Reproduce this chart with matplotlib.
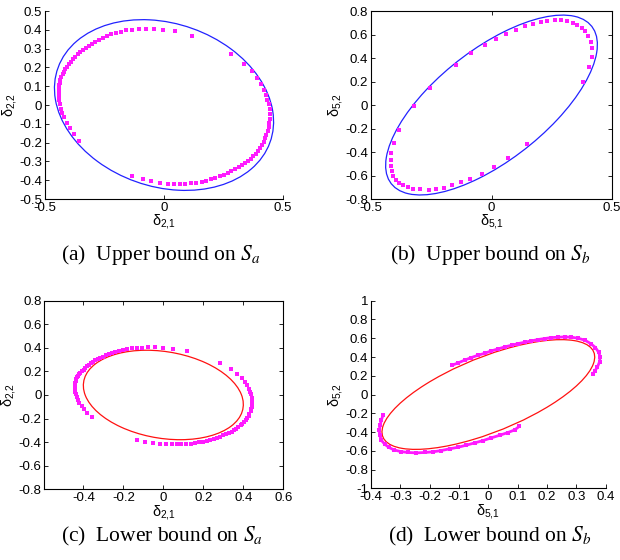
import numpy as np
import matplotlib
matplotlib.use("Agg")
import matplotlib.pyplot as plt
from matplotlib.patches import Ellipse

plt.rcParams['font.family'] = ['Liberation Sans', 'DejaVu Sans']
plt.rcParams['mathtext.fontset'] = 'custom'
plt.rcParams['mathtext.rm'] = 'Liberation Sans'
plt.rcParams['mathtext.it'] = 'Liberation Sans:italic'

# sampled points for S_a (used in panels a and c)
sa_x = [0.118, 0.046, -0.003, -0.042, -0.076, -0.105, -0.133, -0.158, -0.181, -0.202,
        -0.221, -0.240, -0.256, -0.273, -0.289, -0.303, -0.317, -0.329, -0.342, -0.353,
        -0.363, -0.373, -0.382, -0.391, -0.399, -0.408, -0.415, -0.420, -0.426, -0.431,
        -0.436, -0.438, -0.440, -0.441, -0.443, -0.443, -0.443, -0.441, -0.438, -0.434,
        -0.429, -0.420, -0.409, -0.396, -0.380, -0.357,
        -0.133, -0.090, -0.053, -0.018, 0.015, 0.041, 0.066, 0.090, 0.113, 0.136,
        0.158, 0.178, 0.197, 0.216, 0.234, 0.251, 0.268, 0.283, 0.300, 0.314,
        0.328, 0.342, 0.353, 0.364, 0.375, 0.386, 0.395, 0.403, 0.412, 0.419,
        0.426, 0.430, 0.436, 0.440, 0.443, 0.444, 0.445, 0.444, 0.440, 0.434,
        0.429, 0.420, 0.409, 0.392, 0.368, 0.336, 0.281]
sa_y = [0.369, 0.392, 0.401, 0.404, 0.404, 0.402, 0.401, 0.397, 0.390, 0.383,
        0.376, 0.367, 0.358, 0.348, 0.337, 0.326, 0.316, 0.305, 0.293, 0.282,
        0.270, 0.257, 0.243, 0.230, 0.216, 0.204, 0.190, 0.177, 0.163, 0.149,
        0.135, 0.119, 0.105, 0.090, 0.074, 0.059, 0.043, 0.027, 0.007, -0.020,
        -0.043, -0.066, -0.094, -0.121, -0.153, -0.191,
        -0.379, -0.395, -0.406, -0.413, -0.418, -0.420, -0.420, -0.418, -0.417, -0.413,
        -0.408, -0.402, -0.395, -0.388, -0.379, -0.371, -0.362, -0.353, -0.342, -0.332,
        -0.321, -0.310, -0.300, -0.287, -0.273, -0.259, -0.245, -0.229, -0.213, -0.195,
        -0.176, -0.158, -0.138, -0.119, -0.098, -0.074, -0.050, -0.023, 0.004, 0.028,
        0.053, 0.082, 0.112, 0.145, 0.179, 0.220, 0.273]

# sampled points for S_b (panel b)
sb_x = [-0.320, -0.383, -0.405, -0.418, -0.419, -0.418, -0.413, -0.408, -0.397, -0.383,
        -0.367, -0.348, -0.326, -0.295, -0.261, -0.229, -0.196, -0.163, -0.125, -0.088,
        -0.041, 0.010, 0.070, 0.146,
        0.378, 0.404, 0.419, 0.419, 0.411, 0.401, 0.389, 0.375, 0.356, 0.337,
        0.315, 0.290, 0.262, 0.232, 0.205, 0.172, 0.137, 0.100, 0.062, 0.019,
        -0.029, -0.084, -0.148, -0.255]
sb_y = [-0.009, -0.214, -0.322, -0.407, -0.464, -0.515, -0.558, -0.601, -0.635, -0.660,
        -0.683, -0.698, -0.712, -0.717, -0.720, -0.717, -0.703, -0.683, -0.658, -0.626,
        -0.584, -0.524, -0.450, -0.330,
        0.199, 0.325, 0.410, 0.487, 0.538, 0.586, 0.626, 0.658, 0.683, 0.700,
        0.712, 0.720, 0.723, 0.717, 0.706, 0.689, 0.669, 0.641, 0.606, 0.564,
        0.510, 0.441, 0.344, 0.148]

# dense points for S_b lower bound (panel d), two arcs
sd_up_x = [-0.124, -0.103, -0.081, -0.058, -0.035, -0.012, 0.010, 0.033, 0.056, 0.079,
           0.101, 0.124, 0.147, 0.169, 0.192, 0.215, 0.238, 0.260, 0.283, 0.306,
           0.329, 0.349, 0.365, 0.376, 0.381, 0.379, 0.372, 0.363, 0.356]
sd_up_y = [0.312, 0.337, 0.366, 0.394, 0.419, 0.440, 0.465, 0.486, 0.508, 0.525,
           0.543, 0.557, 0.572, 0.586, 0.597, 0.607, 0.611, 0.614, 0.611, 0.600,
           0.579, 0.543, 0.501, 0.451, 0.401, 0.348, 0.294, 0.252, 0.216]
sd_lo_x = [-0.359, -0.365, -0.369, -0.372, -0.370, -0.365, -0.353, -0.340, -0.322, -0.299,
           -0.274, -0.245, -0.217, -0.189, -0.160, -0.132, -0.103, -0.075, -0.046, -0.018,
           0.010, 0.039, 0.067, 0.090, 0.106]
sd_lo_y = [-0.221, -0.274, -0.328, -0.381, -0.434, -0.487, -0.530, -0.562, -0.590, -0.608,
           -0.618, -0.622, -0.618, -0.611, -0.597, -0.579, -0.562, -0.540, -0.515, -0.491,
           -0.462, -0.434, -0.405, -0.377, -0.338]

# bounding ellipses: (center x, center y, full width, full height, angle deg)
ell_a = (0.0, 0.0, 1.00, 0.82, -43)
ell_b = (0.0, 0.0, 1.66, 0.60, 65.5)
ell_c = (0.0, 0.0, 0.86, 0.69, -38)
ell_d = (0.0, 0.0, 1.29, 0.48, 63)

ticks_a_x = [-0.5, 0, 0.5]
ticks_a_y = [-0.5, -0.4, -0.3, -0.2, -0.1, 0, 0.1, 0.2, 0.3, 0.4, 0.5]
ticks_b_y = [-0.8, -0.6, -0.4, -0.2, 0, 0.2, 0.4, 0.6, 0.8]
ticks_c_x = [-0.4, -0.2, 0, 0.2, 0.4, 0.6]
ticks_d_x = [-0.4, -0.3, -0.2, -0.1, 0, 0.1, 0.2, 0.3, 0.4]
ticks_d_y = [-1, -0.8, -0.6, -0.4, -0.2, 0, 0.2, 0.4, 0.6, 0.8, 1]

captions = ['(a)  Upper bound on $S_a$', '(b)  Upper bound on $S_b$',
            '(c)  Lower bound on $S_a$', '(d)  Lower bound on $S_b$']

MAG = '#ff1aff'
MS = 2.2


def setup(ax, xt, yt, xl, yl, box, xlab, ylab):
    ax.set_xlim(xl)
    ax.set_ylim(yl)
    ax.set_xticks(xt)
    ax.set_yticks(yt)
    ax.set_xticklabels(['%g' % v for v in xt])
    ax.set_yticklabels(['%g' % v for v in yt])
    ax.tick_params(direction='in', length=3, width=0.6, labelsize=9.5, pad=2,
                   top=box, right=box)
    for s in ax.spines.values():
        s.set_linewidth(0.8)
    if not box:
        ax.spines['top'].set_visible(False)
        ax.spines['right'].set_visible(False)
    ax.set_xlabel(xlab, fontsize=10.5, labelpad=-1)
    ax.set_ylabel(ylab, fontsize=10.5, labelpad=0.5)


def add_ellipse(ax, e, color):
    ax.add_patch(Ellipse((e[0], e[1]), e[2], e[3], angle=e[4], fill=False,
                         edgecolor=color, linewidth=0.9))


fig = plt.figure(figsize=(6.2, 5.6), dpi=100)

ax_a = fig.add_axes([0.0726, 0.6446, 0.3839, 0.3357])
add_ellipse(ax_a, ell_a, '#2222ff')
ax_a.plot(sa_x, sa_y, 's', color=MAG, markersize=MS, markeredgewidth=0)
setup(ax_a, ticks_a_x, ticks_a_y, (-0.5, 0.5), (-0.5, 0.5), False,
      'δ$_{2{,}1}$', 'δ$_{2{,}2}$')

ax_b = fig.add_axes([0.5984, 0.6446, 0.3887, 0.3357])
add_ellipse(ax_b, ell_b, '#2222ff')
ax_b.plot(sb_x, sb_y, 's', color=MAG, markersize=MS, markeredgewidth=0)
setup(ax_b, ticks_a_x, ticks_b_y, (-0.5, 0.5), (-0.8, 0.8), True,
      'δ$_{5{,}1}$', 'δ$_{5{,}2}$')

ax_c = fig.add_axes([0.0715, 0.1263, 0.3855, 0.3368])
add_ellipse(ax_c, ell_c, '#ff1111')
ax_c.plot(sa_x, sa_y, 's', color=MAG, markersize=MS, markeredgewidth=0)
setup(ax_c, ticks_c_x, ticks_b_y, (-0.595, 0.6), (-0.8, 0.8), True,
      'δ$_{2{,}1}$', 'δ$_{2{,}2}$')

ax_d = fig.add_axes([0.5984, 0.128, 0.3785, 0.335])
add_ellipse(ax_d, ell_d, '#ff1111')
for xs, ys in [(sd_up_x, sd_up_y), (sd_lo_x, sd_lo_y)]:
    ax_d.plot(xs, ys, '-', color=MAG, linewidth=2.0, solid_capstyle='butt')
    ax_d.plot(xs, ys, 's', color=MAG, markersize=MS, markeredgewidth=0)
setup(ax_d, ticks_d_x, ticks_d_y, (-0.4, 0.4), (-1, 1), False,
      'δ$_{5{,}1}$', 'δ$_{5{,}2}$')

cap_pos = [(161 / 620, 1 - 255 / 560), (490 / 620, 1 - 255 / 560),
           (162 / 620, 1 - 536 / 560), (490 / 620, 1 - 536 / 560)]
for (cx, cy), txt in zip(cap_pos, captions):
    fig.text(cx, cy, txt, ha='center', va='center', fontsize=15.5,
             family='Liberation Serif', math_fontfamily='stix')

fig.savefig('out.png', dpi=100)
